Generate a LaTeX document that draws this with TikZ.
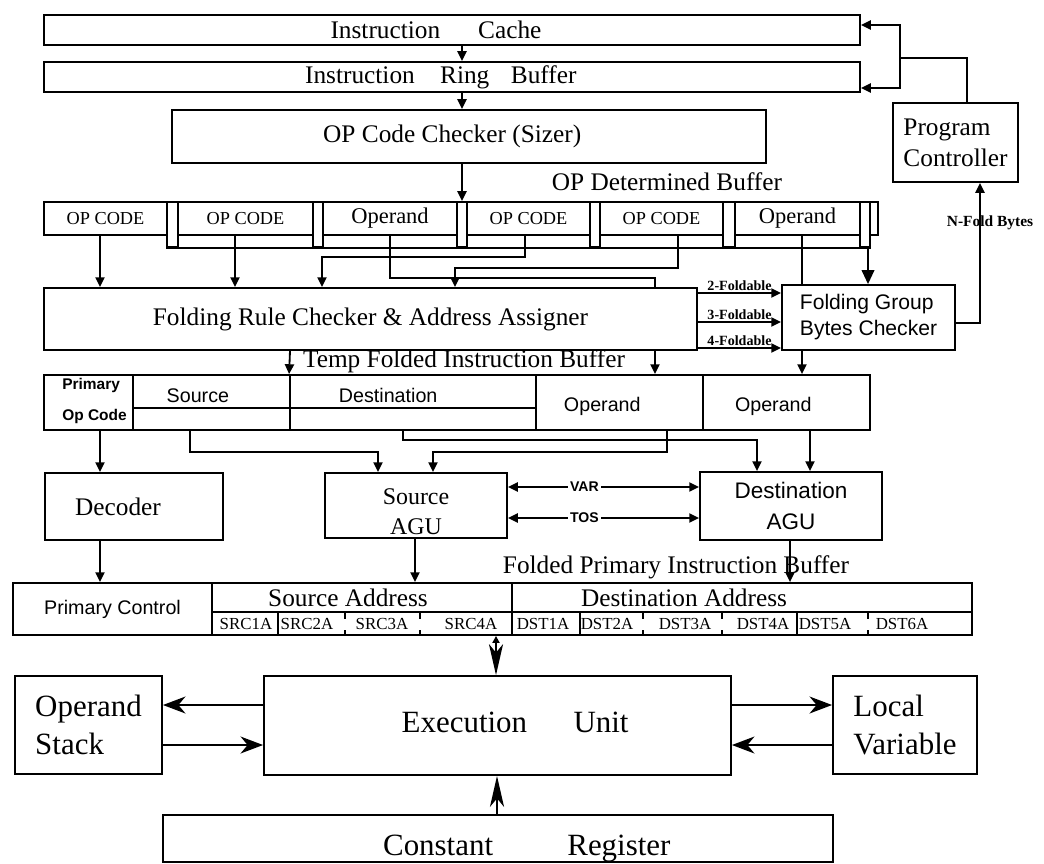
\documentclass[tikz,border=0pt]{standalone}
\usepackage{fontspec}
\setmainfont{Liberation Serif}
\setsansfont{Liberation Sans}
\usetikzlibrary{arrows.meta}

\tikzset{
    blk/.style 2 args={draw, line width=1.3pt, minimum width=#1*0.025cm, minimum height=#2*0.025cm, inner sep=0pt},
    wire/.style={line width=1.3pt},
    arr/.style={wire, -{Triangle[length=7pt,width=6.5pt]}},
    dblarr/.style={wire, {Triangle[length=7pt,width=6.5pt]}-{Triangle[length=7pt,width=6.5pt]}},
    fatarr/.style={wire, -{Triangle[length=10pt,width=9pt]}},
    sarr/.style={line width=1.6pt, -{Stealth[length=16pt,width=12pt,inset=5pt]}},
    larr/.style={line width=1.4pt, -{Stealth[length=22pt,width=10pt,inset=6pt]}},
    tL/.style={font=\fontsize{18}{22}\selectfont},
    tXL/.style={font=\fontsize{22}{27}\selectfont},
    tS/.style={font=\fontsize{13}{16}\selectfont},
    tM/.style={font=\fontsize{16}{19}\selectfont},
    tA/.style={font=\fontsize{17}{21}\selectfont},
    tC/.style={font=\fontsize{12}{14}\selectfont, inner sep=0pt},
    tG/.style={font=\sffamily\fontsize{15}{18.5}\selectfont},
    tP/.style={font=\sffamily\bfseries\fontsize{11}{22}\selectfont},
    tS2/.style={font=\sffamily\fontsize{14}{16}\selectfont},
    tO/.style={font=\sffamily\fontsize{14}{17}\selectfont},
    tD/.style={font=\sffamily\fontsize{16}{22}\selectfont},
    tPC/.style={font=\sffamily\fontsize{14}{17}\selectfont},
    vlab/.style={font=\sffamily\bfseries\fontsize{10}{12}\selectfont, fill=white, inner sep=1.5pt},
    flab/.style={font=\bfseries\fontsize{10}{12}\selectfont, inner sep=1pt},
}

\begin{document}
\begin{tikzpicture}[x=0.025cm, y=-0.025cm]
    \useasboundingbox (0,0) rectangle (1044,863);
    \fill[white] (0,0) rectangle (1044,863);

    % Fetch stage
    \node[blk={816}{30}, label={[tL, xshift=-0.4cm]center:Instruction\hspace{1.5em}Cache}] (cache) at (452,30) {};
    \node[blk={816}{30}, label={[tL, xshift=-0.28cm]center:Instruction\hspace{1em}Ring\hspace{0.85em}Buffer}] (ring) at (452,77) {};
    \node[blk={594}{53}, label={[tL, xshift=-0.42cm]center:OP Code Checker (Sizer)}] (sizer) at (469,136.5) {};
    \node[blk={125}{79}, tL, align=left] (pc) at (955.5,142.5) {Program\\Controller};
    \draw[arr] (462,0 |- cache.south) -- (462,0 |- ring.north);
    \draw[arr] (462,0 |- ring.south) -- (462,0 |- sizer.north);
    \coordinate (pcj) at (900,58);
    \draw[wire] (967,0 |- pc.north) |- (pcj);
    \draw[arr] (pcj) |- (cache.east |- 0,25);
    \draw[arr] (pcj) |- (ring.east |- 0,88);

    % OP determined buffer
    \node[tL] (opdbl) at (667,182) {OP Determined Buffer};
    \foreach \nm/\cx/\w in {s1/105.5/123, s2/245.5/135, s4/528.5/123, s5/661.5/123}
        \node[blk={\w}{33}, tS] (\nm) at (\cx,218.5) {OP CODE};
    \foreach \nm/\cx/\w in {s3/390/134, s6/797.5/125}
        \node[blk={\w}{33}, tM] (\nm) at (\cx,218.5) {Operand};
    \foreach \nm/\xa/\xb in {k1/167/178, k2/313/323, k3/457/467, k4/590/600, k5/723/735, k6/860/870}
        \node[blk={(\xb-\xa)}{45}] (\nm) at ({(\xa+\xb)/2},224.5) {};
    \node[blk={8}{33}] (k7) at (874,218.5) {};
    \draw[wire] (k1.south west) -- (k6.south east);
    \draw[arr] (sizer.south -| k3) -- (k3.north);

    % Folding rule checker
    \node[blk={653}{62}, tL] (frc) at (370.5,319) {Folding Rule Checker \& Address Assigner};
    \node[blk={173}{65}, tG, align=left] (fgbc) at (868.5,317.5) {Folding Group\\Bytes Checker};
    \draw[arr] (100,0 |- s1.south) -- (100,0 |- frc.north);
    \draw[arr] (235,0 |- s2.south) -- (235,0 |- frc.north);
    \draw[arr] (525,0 |- s4.south) -- (525,257) -| (322,0 |- frc.north);
    \draw[arr] (678,0 |- s5.south) -- (678,268) -| (455,0 |- frc.north);
    \draw[wire] (390,0 |- s3.south) -- (390,278) -| (655,0 |- frc.north);
    \draw[wire] (802,0 |- s6.south) -- (802,0 |- fgbc.north);
    \draw[fatarr] (868,0 |- k6.south) -- (868,0 |- fgbc.north);
    \foreach \yy/\n in {293/2, 322/3, 348/4}
        \draw[arr] (frc.east |- 0,\yy) -- node[flab, above] {\n-Foldable} (fgbc.west |- 0,\yy);
    \draw[arr] (fgbc.east |- 0,323) -| (980,0 |- pc.south);
    \node[flab, font=\bfseries\fontsize{11}{13}\selectfont] (nfold) at (990,223) {N-Fold Bytes};

    % Temp folded instruction buffer
    \node[tL] (tfibl) at (464,361) {Temp Folded Instruction Buffer};
    \node[blk={89}{55}, tP, align=left, label={[tP, align=left, xshift=0.15cm, yshift=0.04cm]center:Primary\\Op Code}] (poc) at (88.5,402.5) {};
    \node[blk={157}{33}, label={[tS2, xshift=-0.34cm, yshift=-0.1cm]center:Source}] (src) at (211.5,391.5) {};
    \node[blk={246}{33}, label={[tS2, xshift=-0.62cm, yshift=-0.1cm]center:Destination}] (dst) at (413,391.5) {};
    \node[blk={157}{22}] (srclo) at (211.5,419) {};
    \node[blk={246}{22}] (dstlo) at (413,419) {};
    \node[blk={167}{55}, label={[tO, xshift=-0.43cm, yshift=-0.09cm]center:Operand}] (op1) at (619.5,402.5) {};
    \node[blk={167}{55}, label={[tO, xshift=-0.33cm, yshift=-0.09cm]center:Operand}] (op2) at (786.5,402.5) {};
    \draw[arr] (290,0 |- frc.south) -- (dst.north west);
    \draw[arr] (655,0 |- frc.south) -- (655,0 |- op1.north);
    \draw[arr] (802,0 |- fgbc.south) -- (802,0 |- op2.north);

    % Decoder and AGUs
    \node[blk={178}{67}, label={[tL, xshift=-0.4cm]center:Decoder}] (dec) at (134,506.5) {};
    \node[blk={182}{65}, label={[tA, align=center, yshift=-0.16cm]center:Source\\AGU}] (sagu) at (416,505.5) {};
    \node[blk={182}{68}, tD, align=center] (dagu) at (791,506) {Destination\\AGU};
    \draw[arr] (100,0 |- poc.south) -- (100,0 |- dec.north);
    \draw[arr] (190,0 |- srclo.south) -- (190,452) -| (378,0 |- sagu.north);
    \draw[arr] (403,0 |- dstlo.south) -- (403,440) -| (757,0 |- dagu.north);
    \draw[arr] (667,0 |- op1.south) -- (667,452) -| (433,0 |- sagu.north);
    \draw[arr] (810,0 |- op2.south) -- (810,0 |- dagu.north);
    \draw[dblarr] (sagu.east |- 0,487) -- node[vlab, pos=0.4] {VAR} (dagu.west |- 0,487);
    \draw[dblarr] (sagu.east |- 0,518) -- node[vlab, pos=0.4] {TOS} (dagu.west |- 0,518);

    % Folded primary instruction buffer
    \node[tL] (fpibl) at (676,567) {Folded Primary Instruction Buffer};
    \node[blk={199}{52}, tPC] (pctl) at (112.5,609) {Primary Control};
    \node[blk={300}{29}, label={[tL, xshift=-0.35cm]center:Source Address}] (saddr) at (362,597.5) {};
    \node[blk={460}{29}, label={[tL, xshift=-1.45cm]center:Destination Address}] (daddr) at (742,597.5) {};
    \node[blk={300}{23}] (srow) at (362,623.5) {};
    \node[blk={460}{23}] (drow) at (742,623.5) {};
    \foreach \nm/\cx/\txt in {c1/246/SRC1A, c2/307/SRC2A, c3/382/SRC3A, c4/471/SRC4A, d1/543/DST1A, d2/607/DST2A, d3/685/DST3A, d4/763/DST4A, d5/825/DST5A, d6/902/DST6A}
        \node[tC] (\nm) at (\cx,624) {\txt};
    \foreach \xx in {278,580,797}
        \draw[line width=1pt] (\xx,612) -- (\xx,635);
    \foreach \xx in {345,420,643,722,868}
        \draw[line width=1pt] (\xx,612) -- (\xx,619) (\xx,630) -- (\xx,635);
    \draw[arr] (100,0 |- dec.south) -- (100,0 |- pctl.north);
    \draw[arr] (415,0 |- sagu.south) -- (415,0 |- saddr.north);
    \draw[arr] (790,0 |- dagu.south) -- (790,0 |- daddr.north);

    % Execution stage
    \node[blk={467}{99}, label={[tXL, xshift=0.44cm, yshift=0.09cm]center:Execution\hspace{1.5em}Unit}] (eu) at (497.5,725.5) {};
    \node[blk={147}{98}, tXL, align=left] (os) at (88.5,725) {Operand\\Stack};
    \node[blk={144}{98}, tXL, align=left] (lv) at (905,725) {Local\\Variable};
    \node[blk={670}{47}, label={[tXL, xshift=0.72cm, yshift=-0.25cm]center:Constant\hspace{2.4em}Register}] (creg) at (498,838.5) {};
    \draw[line width=1.4pt, {Triangle[length=5pt,width=5pt]}-{Stealth[length=22pt,width=10pt,inset=6pt]}] (496,0 |- srow.south) -- (496,0 |- eu.north);
    \draw[sarr] (eu.west |- 0,705) -- (os.east |- 0,705);
    \draw[sarr] (os.east |- 0,745) -- (eu.west |- 0,745);
    \draw[sarr] (eu.east |- 0,705) -- (lv.west |- 0,705);
    \draw[sarr] (lv.west |- 0,745) -- (eu.east |- 0,745);
    \draw[larr] (497,0 |- creg.north) -- (497,0 |- eu.south);
\end{tikzpicture}
\end{document}
